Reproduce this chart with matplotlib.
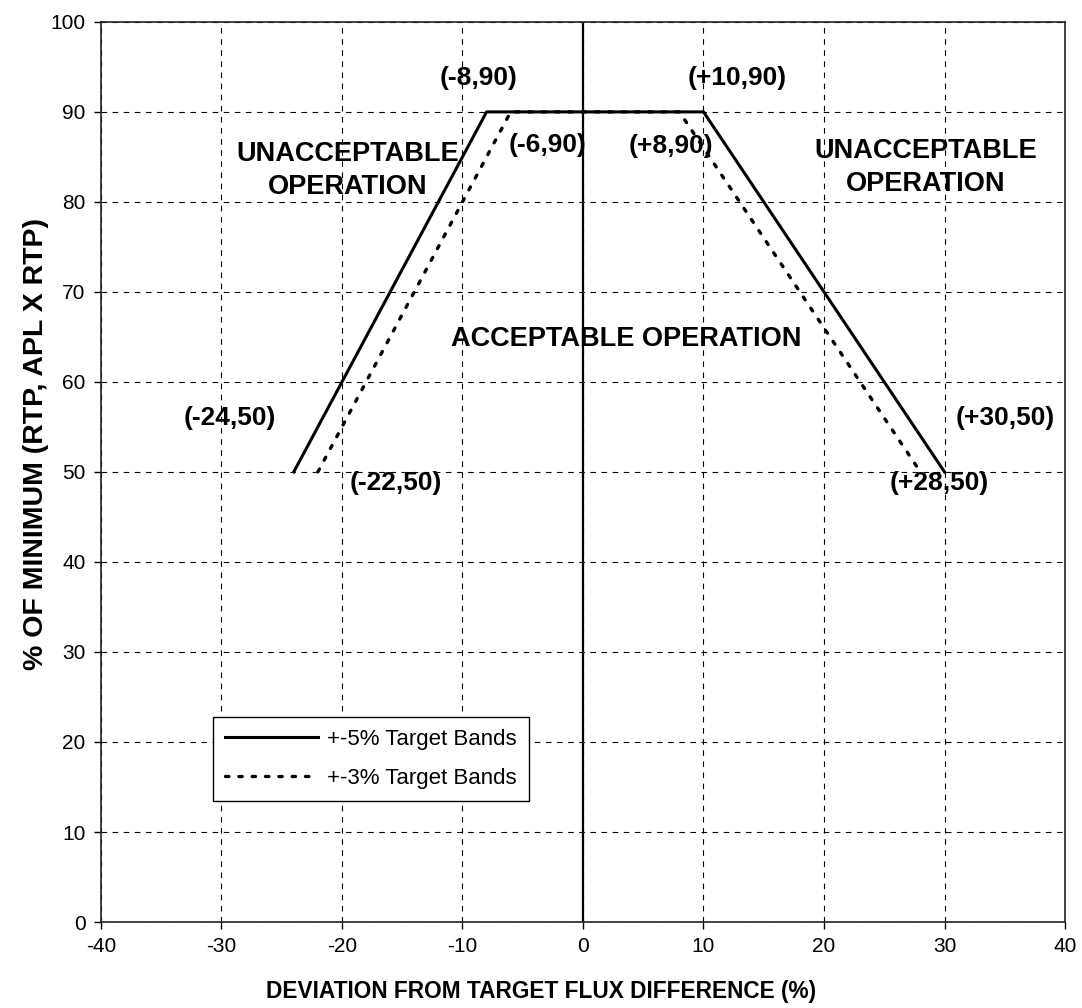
import matplotlib
matplotlib.use("Agg")
import matplotlib.pyplot as plt

plt.rcParams['font.family'] = ['Liberation Sans', 'DejaVu Sans']
plt.rcParams['axes.unicode_minus'] = False

# band limits (deviation %, power %)
band5_x = [-24, -8, 10, 30]
band5_y = [50, 90, 90, 50]
band3_x = [-22, -6, 8, 28]
band3_y = [50, 90, 90, 50]

point_labels = ['(-8,90)', '(-6,90)', '(+8,90)', '(+10,90)',
                '(-24,50)', '(-22,50)', '(+28,50)', '(+30,50)']
label_x = [-8.7, -2.9, 7.3, 12.8, -29.3, -15.5, 29.6, 35.0]
label_y = [93.8, 86.3, 86.2, 93.8, 56.0, 48.8, 48.8, 56.0]

region_labels = ['UNACCEPTABLE\nOPERATION', 'UNACCEPTABLE\nOPERATION', 'ACCEPTABLE OPERATION']
region_x = [-19.5, 28.4, 3.6]
region_y = [83.5, 83.8, 64.8]

x_ticks = [-40, -30, -20, -10, 0, 10, 20, 30, 40]
y_ticks = [0, 10, 20, 30, 40, 50, 60, 70, 80, 90, 100]

fig = plt.figure(figsize=(10.82, 10.08), dpi=100)
ax = fig.add_axes([0.0933, 0.0853, 0.891, 0.893])

ax.set_xlim(-40, 40)
ax.set_ylim(0, 100)
ax.set_xticks(x_ticks)
ax.set_yticks(y_ticks)
ax.tick_params(labelsize=15, direction='out', length=5, width=1, color='black')
ax.tick_params(axis='y', pad=6)
ax.tick_params(axis='x', pad=6)

ax.grid(True, color='black', linestyle=(0, (5, 5)), linewidth=0.8)
ax.set_axisbelow(True)
for s in ax.spines.values():
    s.set_linewidth(1.2)
    s.set_color('#222222')

ax.axvline(0, color='black', linewidth=1.6)

ax.plot(band5_x, band5_y, color='black', linewidth=2.2, label='+-5% Target Bands')
ax.plot(band3_x, band3_y, color='black', linewidth=2.4, linestyle=(0, (1, 3)),
        dash_capstyle='round', label='+-3% Target Bands')

for t, x, y in zip(point_labels, label_x, label_y):
    ax.text(x, y, t, ha='center', va='center', fontsize=19, fontweight='bold')
for t, x, y in zip(region_labels, region_x, region_y):
    ax.text(x, y, t, ha='center', va='center', fontsize=19.5, fontweight='bold',
            linespacing=1.35, multialignment='center')

leg = ax.legend(loc='upper left', bbox_to_anchor=(0.116, 0.228), fontsize=16,
                frameon=True, fancybox=False, framealpha=1, edgecolor='black',
                handlelength=4.2, handletextpad=0.4, borderpad=0.55, labelspacing=0.8,
                borderaxespad=0)
leg.get_frame().set_linewidth(1.0)

fig.text(0.5, 0.016, 'DEVIATION FROM TARGET FLUX DIFFERENCE (%)', ha='center', va='center',
         fontsize=16.3, fontweight='bold')
fig.text(0.033, 0.56, '% OF MINIMUM (RTP, APL X RTP)', ha='center', va='center',
         rotation=90, fontsize=20.5, fontweight='bold')

fig.savefig('out.png', dpi=100)
